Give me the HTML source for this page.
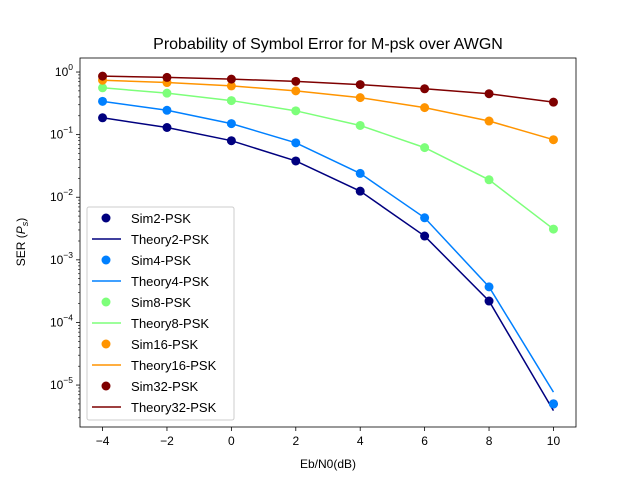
<!DOCTYPE html>
<html><head><meta charset="utf-8"><style>body{margin:0;background:#fff}svg{display:block;font-family:"Liberation Sans","DejaVu Sans",sans-serif}</style></head>
<body>
<svg id="chart" width="640" height="480" viewBox="0 0 640 480"></svg>
<script>
const ebn0 = [-4,-2,0,2,4,6,8,10];
const sim2 = [0.186,0.13,0.08,0.038,0.0125,0.0024,2.2e-4,5e-6];
const th2 = [0.186,0.13,0.08,0.038,0.0125,0.0024,2.2e-4,3.9e-6];
const sim4 = [0.34,0.245,0.15,0.074,0.024,0.0047,3.7e-4,5e-6];
const th4 = [0.34,0.245,0.15,0.074,0.024,0.0047,3.7e-4,7.7e-6];
const sim8 = [0.56,0.46,0.35,0.24,0.14,0.062,0.019,0.0031];
const th8 = [0.56,0.46,0.35,0.24,0.14,0.062,0.019,0.0031];
const sim16 = [0.74,0.68,0.6,0.5,0.39,0.27,0.165,0.083];
const th16 = [0.74,0.68,0.6,0.5,0.39,0.27,0.165,0.083];
const sim32 = [0.86,0.82,0.77,0.71,0.63,0.54,0.45,0.33];
const th32 = [0.86,0.82,0.77,0.71,0.63,0.54,0.45,0.33];
const xTicks = [-4,-2,0,2,4,6,8,10];
const yTickExp = [0,-1,-2,-3,-4,-5];
const labels = ['2-PSK','4-PSK','8-PSK','16-PSK','32-PSK'];
const colors = ['#00007f','#0080ff','#7dff7a','#ff9400','#7f0000'];
const sims=[sim2,sim4,sim8,sim16,sim32], ths=[th2,th4,th8,th16,th32];

const NS='http://www.w3.org/2000/svg', svg=document.getElementById('chart');
const L=80,R=576,T=58,B=427, xmin=-4.7,xmax=10.7;
const ytop=0.224, ybot=-5.67;
const X=v=>L+(v-xmin)/(xmax-xmin)*(R-L);
const Y=v=>T+(ytop-Math.log10(v))/(ytop-ybot)*(B-T);
function el(t,a,p){const e=document.createElementNS(NS,t);for(const k in a)e.setAttribute(k,a[k]);(p||svg).appendChild(e);return e;}

const title=el('text',{x:328,y:49,'text-anchor':'middle','font-size':16});
title.textContent='Probability of Symbol Error for M-psk over AWGN';



// ticks
xTicks.forEach(v=>{
  const x=X(v);
  el('line',{x1:x,x2:x,y1:B,y2:B+4,stroke:'#000','stroke-width':0.8});
  const t=el('text',{x:x,y:B+18,'text-anchor':'middle','font-size':12});
  t.textContent=(v<0?'\u2212'+(-v):v);
  
  
});
for(let e=0;e>=-6;e--){
  for(let m=1;m<10;m++){
    const v=m*Math.pow(10,e), y=Y(v);
    if(y<T||y>B) continue;
    el('line',{x1:L,x2:L-(m==1?4:2),y1:y,y2:y,stroke:'#000','stroke-width':m==1?0.8:0.6});
  }
}
yTickExp.forEach(e=>{
  const y=Y(Math.pow(10,e));
  const t=el('text',{x:L-7,y:y+4,'text-anchor':'end','font-size':12});
  t.textContent='10';
  const s=el('tspan',{dy:-6,'font-size':8.5},t);
  s.textContent=(e<0?'\u2212'+(-e):e);
  
  
});
const xl=el('text',{x:328,y:468,'text-anchor':'middle','font-size':12});
xl.textContent='Eb/N0(dB)';


const yl=el('text',{x:0,y:0,'text-anchor':'middle','font-size':12,transform:'translate(25,242) rotate(-90)'});
yl.innerHTML='SER (<tspan font-style="italic">P</tspan><tspan font-style="italic" font-size="9" dy="3">s</tspan><tspan dy="-3">)</tspan>';



// series
sims.forEach((sim,i)=>{
  const th=ths[i];
  const p=el('polyline',{points:ebn0.map((x,j)=>X(x)+','+Y(th[j])).join(' '),fill:'none',stroke:colors[i],'stroke-width':1.5});
  
  
  sim.forEach((v,j)=>{
    const c=el('circle',{cx:X(ebn0[j]),cy:Y(v),r:4.5,fill:colors[i]});
    
    
  });
});

const frame=el('rect',{x:L,y:T,width:R-L,height:B-T,fill:'none',stroke:'#000','stroke-width':0.8});



// legend
const lg=el('g',{});


el('rect',{x:87,y:207,width:147,height:213,rx:2,fill:'#fff','fill-opacity':0.8,stroke:'#ccc'},lg);
labels.forEach((lab,i)=>{
  const y1=218+i*42, y2=y1+21;
  el('circle',{cx:106,cy:y1,r:4.5,fill:colors[i]},lg);
  const t1=el('text',{x:131,y:y1+5,'font-size':13},lg); t1.textContent='Sim'+lab;
  
  
  el('line',{x1:92,x2:121,y1:y2,y2:y2,stroke:colors[i],'stroke-width':1.5},lg);
  const t2=el('text',{x:131,y:y2+5,'font-size':13},lg); t2.textContent='Theory'+lab;
  
  
});
</script>
</body></html>
